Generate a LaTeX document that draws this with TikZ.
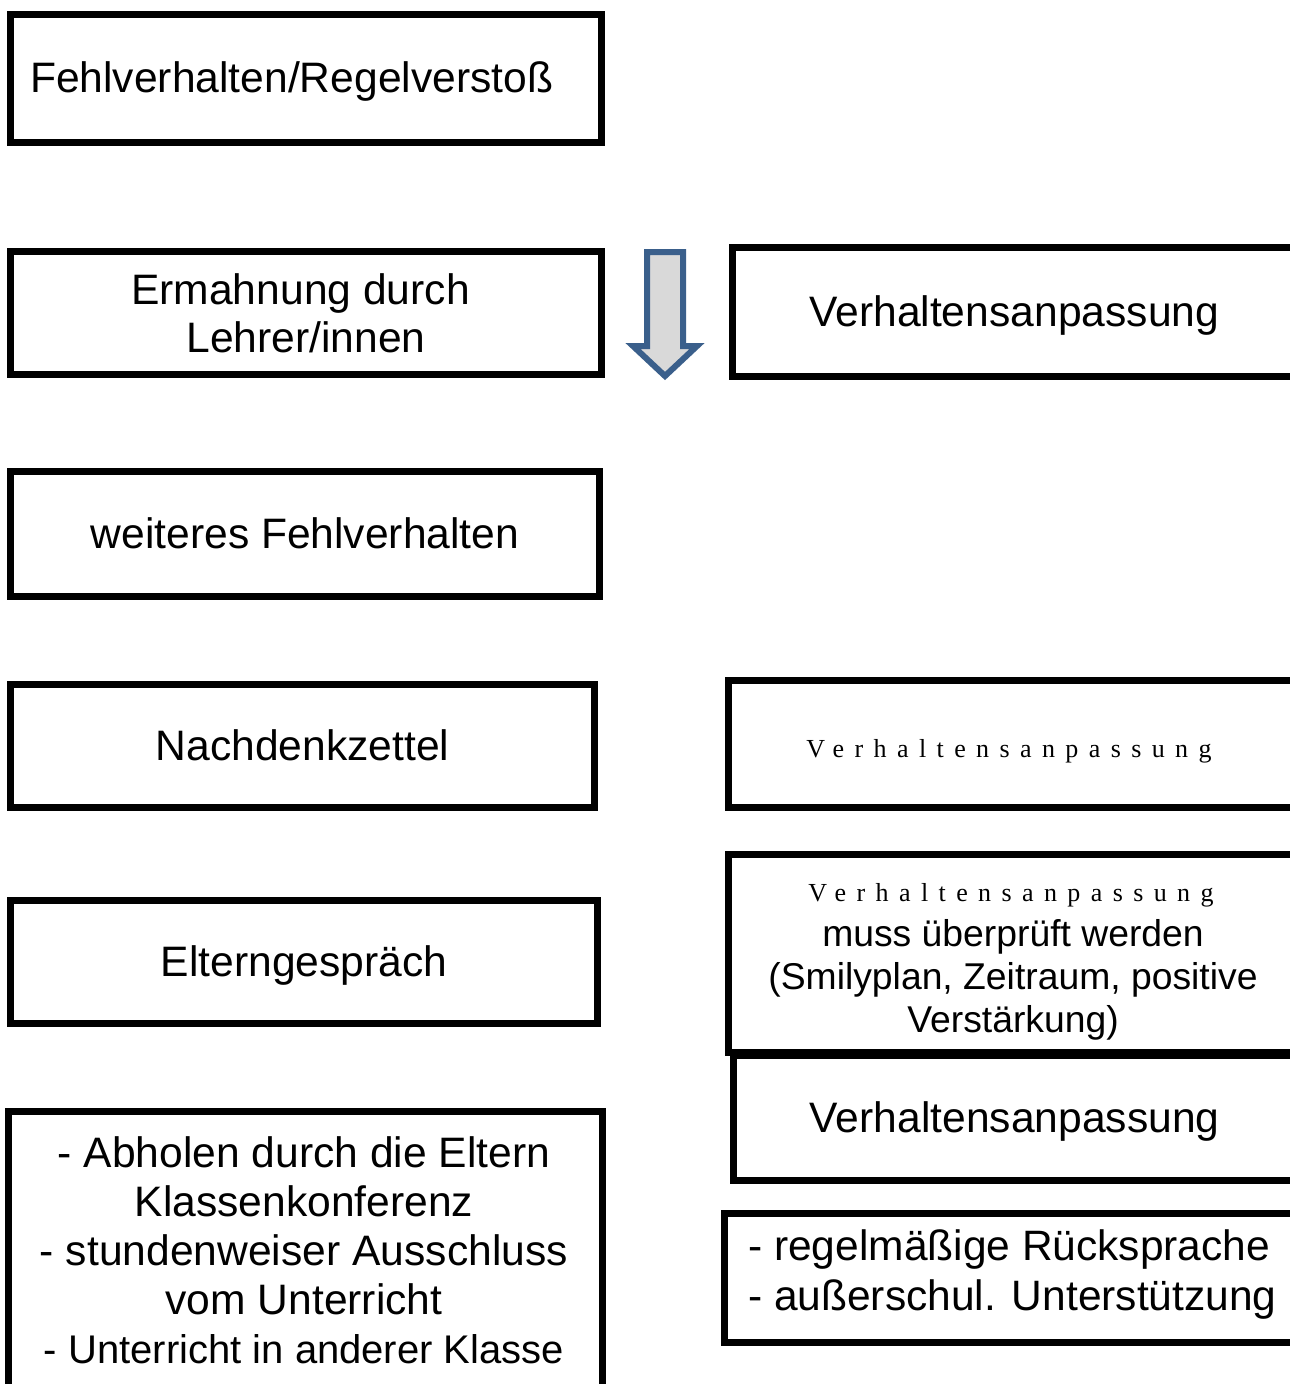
\documentclass[tikz,border=0pt]{standalone}
\usepackage{fontspec}
\setmainfont{Liberation Sans}
\newfontfamily\spacedfont[LetterSpace=40]{Liberation Serif}
\definecolor{arrowblue}{HTML}{3A5F8B}
\definecolor{arrowfill}{HTML}{D9D9D9}
\begin{document}
\begin{tikzpicture}[x=1pt,y=-1pt,
  box/.style={draw=black, line width=7pt, inner sep=0pt, align=center,
    font=\fontsize{42.6}{48}\selectfont},
  oneline/.style={text height=39pt, text depth=11pt},
  plain/.style={inner sep=0pt, align=center},
  bigarrow/.style={draw=arrowblue, fill=arrowfill, line width=6pt, line join=miter}]
\useasboundingbox (0,0) rectangle (1290,1384);
\clip (0,0) rectangle (1290,1384);
\fill[white] (0,0) rectangle (1290,1384);

% left column
\node[box, oneline, minimum width=591pt, minimum height=128pt, text width=552pt, align=left]
  (fehl) at (306,78.5) {Fehlverhalten/Regelversto\ss};
\node[box, minimum width=591pt, minimum height=123pt]
  (ermahn) at (306,313) {Ermahnung durch\hspace*{11pt}\\Lehrer/innen};
\node[box, oneline, minimum width=589pt, minimum height=125pt]
  (weiter) at (305,534) {weiteres Fehlverhalten};
\node[box, oneline, minimum width=584pt, minimum height=123pt]
  (nachd) at (302.5,746) {Nachdenkzettel};
\node[box, oneline, minimum width=587pt, minimum height=123pt]
  (eltern) at (304,962) {Elterngespräch};
\node[box, minimum width=594pt, minimum height=284pt]
  (massn) at (305.5,1253) {};
\node[plain, font=\fontsize{42.6}{49}\selectfont] (massnt) at (304,1250)
  {- Abholen durch die Eltern\\Klassenkonferenz\\- stundenweiser Ausschluss\\vom Unterricht\\{\fontsize{40}{49}\selectfont - Unterricht in anderer Klasse}};

% arrow
\draw[bigarrow] (647,252) -- (683,252) -- (683,346) -- (697,346) -- (665,376)
  -- (633,346) -- (647,346) -- cycle;

% right column
\node[box, oneline, minimum width=563.5pt, minimum height=129pt]
  (anp1) at (1014.25,312) {Verhaltensanpassung};
\node[box, minimum width=567.5pt, minimum height=127pt]
  (anp2) at (1012.25,744) {};
\node[plain, anchor=base] (anp2t) at (1009,757)
  {\spacedfont\fontsize{26}{30}\selectfont Verhaltensanpassung};
\node[box, oneline, minimum width=562.5pt, minimum height=125pt]
  (anp4) at (1014.75,1118) {Verhaltensanpassung};
\node[box, minimum width=567.5pt, minimum height=198pt]
  (anp3) at (1012.25,953.5) {};
\node[plain, font=\fontsize{37.3}{43}\selectfont] (anp3t) at (1013,962)
  {{\spacedfont\fontsize{26}{30}\selectfont \hspace*{-4pt}Verhaltensanpassung}\\[2pt]
   muss überprüft werden\\(Smilyplan, Zeitraum, positive\\Verstärkung)};
\node[box, minimum width=571.5pt, minimum height=129pt]
  (ruecks) at (1010.25,1278) {};
\node[plain, align=left, anchor=west, font=\fontsize{42.5}{50}\selectfont]
  (ruecksT) at (748,1274) {- regelmäßige Rücksprache\\- außerschul. Unterstützung};
\end{tikzpicture}
\end{document}
